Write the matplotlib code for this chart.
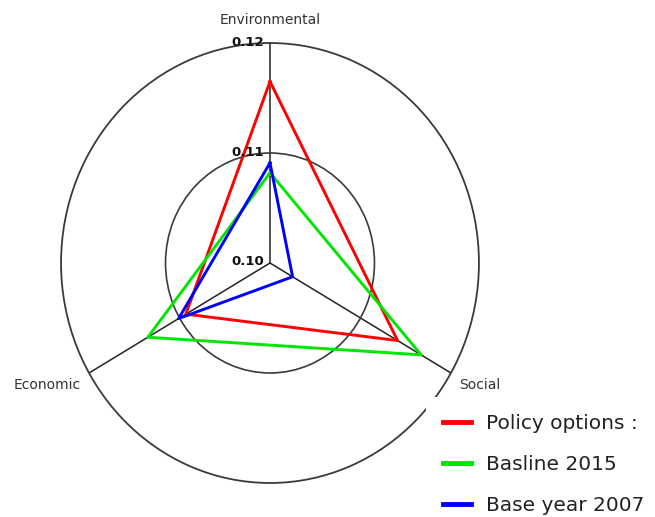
import numpy as np
import matplotlib
matplotlib.use('Agg')
import matplotlib.pyplot as plt

# Axes (clockwise from the top) and values per series
categories = ['Environmental', 'Social', 'Economic']
policy_options = [0.1165, 0.1141, 0.1093]
baseline_2015 = [0.1082, 0.1167, 0.1135]
base_year_2007 = [0.1091, 0.1025, 0.1101]
series_labels = ['Policy options :', 'Basline 2015', 'Base year 2007']
series_colors = ['#ff0000', '#00e600', '#0000ff']
r_ticks = [0.10, 0.11, 0.12]
r_tick_labels = ['0.10', '0.11', '0.12']

angles = np.linspace(0, 2 * np.pi, len(categories), endpoint=False)

fig = plt.figure(figsize=(6.55, 5.17), dpi=100)
ax = fig.add_axes([0.0932, 0.0658, 0.638, 0.851], projection='polar')
ax.set_aspect('auto')
ax.set_theta_offset(np.pi / 2)
ax.set_theta_direction(-1)
ax.set_ylim(r_ticks[0], r_ticks[-1])

# grid: one inner ring + spokes, outer ring is the spine
ax.set_rgrids(r_ticks[1:-1], labels=[''] * len(r_ticks[1:-1]))
ax.set_thetagrids(np.degrees(angles), labels=[''] * len(categories))
ax.yaxis.grid(True, color='#3a3a3a', linewidth=1.2)
ax.xaxis.grid(True, color='#222222', linewidth=1.1)
ax.spines['polar'].set_color('#3a3a3a')
ax.spines['polar'].set_linewidth(1.3)

lines = []
for vals, lab, col in zip([policy_options, baseline_2015, base_year_2007],
                          series_labels, series_colors):
    th = np.append(angles, angles[0])
    rr = np.append(vals, vals[0])
    ln, = ax.plot(th, rr, color=col, linewidth=2.1, label=lab)
    lines.append(ln)

# radial tick labels along the top spoke
for r, lab in zip(r_ticks, r_tick_labels):
    ax.annotate(lab, xy=(0, r), xytext=(-6, 1), textcoords='offset pixels',
                ha='right', va='center', fontsize=9.5, fontweight='bold',
                color='#111111', annotation_clip=False)

# category labels
label_offsets = [((0, 23), 'center'), ((8, -12), 'left'), ((-8, -12), 'right')]
for ang, cat, (off, ha) in zip(angles, categories, label_offsets):
    ax.annotate(cat, xy=(ang, r_ticks[-1]), xytext=off, textcoords='offset pixels',
                ha=ha, va='center', fontsize=10, color='#333333',
                annotation_clip=False)

leg = fig.legend(handles=lines, loc='upper left',
                 bbox_to_anchor=(426 / 655, 1 - 397 / 517),
                 borderaxespad=0, borderpad=0.85, fontsize=14.5,
                 handlelength=1.4, handletextpad=0.75, labelspacing=1.1,
                 frameon=True, fancybox=False)
leg.get_frame().set_facecolor('white')
leg.get_frame().set_edgecolor('none')
leg.get_frame().set_alpha(1)
for h in leg.legend_handles:
    h.set_linewidth(3.5)
for t in leg.get_texts():
    t.set_color('#222222')

fig.savefig('out.png', dpi=100)
